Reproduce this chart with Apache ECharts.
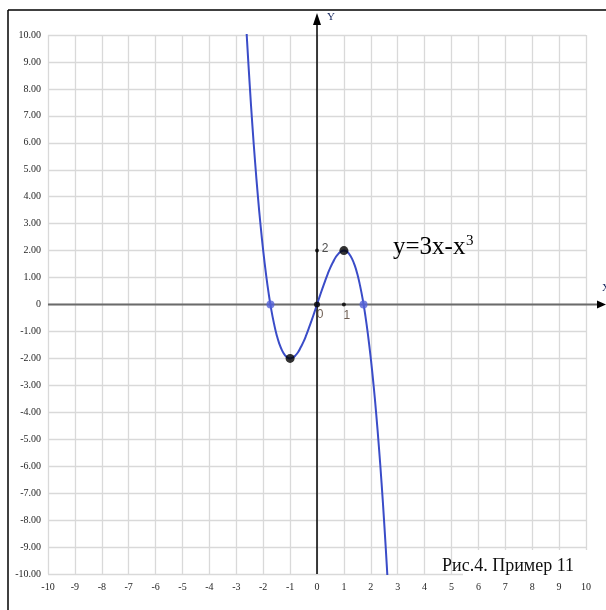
<!DOCTYPE html>
<html><head><meta charset="utf-8">
<script src="https://cdn.jsdelivr.net/npm/echarts@6/dist/echarts.min.js"></script>
<style>html,body{margin:0;padding:0;background:#fff}#c{width:606px;height:610px}</style>
</head><body><div id="c"></div>
<script>
// Curve points (y = 3x - x^3)
var curveX = [-2.65,-2.6,-2.5,-2.4,-2.3,-2.2,-2.1,-2.0,-1.9,-1.8,-1.7,-1.6,-1.5,-1.4,-1.3,-1.2,-1.1,-1.0,-0.9,-0.8,-0.7,-0.6,-0.5,-0.4,-0.3,-0.2,-0.1,0,0.1,0.2,0.3,0.4,0.5,0.6,0.7,0.8,0.9,1.0,1.1,1.2,1.3,1.4,1.5,1.6,1.7,1.8,1.9,2.0,2.1,2.2,2.3,2.4,2.5,2.6,2.65];
var curveY = [10.66,9.78,8.13,6.62,5.27,4.05,2.96,2.00,1.16,0.43,-0.19,-0.70,-1.13,-1.46,-1.70,-1.87,-1.97,-2.00,-1.97,-1.89,-1.76,-1.58,-1.38,-1.14,-0.87,-0.59,-0.30,0,0.30,0.59,0.87,1.14,1.38,1.58,1.76,1.89,1.97,2.00,1.97,1.87,1.70,1.46,1.13,0.70,0.19,-0.43,-1.16,-2.00,-2.96,-4.05,-5.27,-6.62,-8.13,-9.78,-10.66];
var rootPts = [[-1.73,0],[1.73,0]];
var extremePts = [[1,2],[-1,-2]];
var smallPts = [[0,0],[0,2],[1,0]];
var smallLabels = ['0','2','1'];
var xMin=-10, xMax=10, yMin=-10, yMax=10;
var formulaText = 'y=3x-x';
var formulaSup = '3';
var captionText = 'Рис.4. Пример 11';

var chart = echarts.init(document.getElementById('c'), null, {renderer:'canvas'});
var serif = 'Liberation Serif, Times New Roman, serif';
var curve = curveX.map(function(x,i){return [x, curveY[i]];});
var labelFmt = function(v){ return v===0 ? '0' : v.toFixed(2); };
chart.setOption({
  animation:false,
  backgroundColor:'#fff',
  grid:{left:48, right:20, top:35, bottom:36},
  xAxis:{type:'value', min:xMin, max:xMax, interval:1,
    axisLine:{show:false}, axisTick:{show:false},
    splitLine:{show:true, lineStyle:{color:'#d9d9d9', width:1.3}},
    axisLabel:{fontFamily:serif, fontSize:10, color:'#262626', margin:8}},
  yAxis:{type:'value', min:yMin, max:yMax, interval:1,
    axisLine:{show:false}, axisTick:{show:false},
    splitLine:{show:true, lineStyle:{color:'#d9d9d9', width:1.3}},
    axisLabel:{fontFamily:serif, fontSize:10, color:'#262626', margin:7, formatter:labelFmt}},
  series:[
    {type:'line', data:curve, smooth:true, showSymbol:false, clip:true, z:5,
     lineStyle:{color:'#3a4cc8', width:2}},
    {type:'scatter', data:rootPts, symbolSize:8, z:6, itemStyle:{color:'#5563d8'}},
    {type:'scatter', data:extremePts, symbolSize:9, z:6, itemStyle:{color:'#000'}},
    {type:'scatter', data:smallPts.map(function(p,i){
        var off = [[6,13],[10,0],[5,13]][i];
        return {value:p, symbolSize:i===0?6:4,
          label:{show:true, formatter:smallLabels[i], position:[0,0], offset:[off[0], off[1]],
            fontFamily:'Liberation Sans, Arial, sans-serif', fontSize:12,
            color: i===1 ? '#222' : '#4a3628', align:'center', verticalAlign:'middle'}};
      }), z:7, itemStyle:{color:'#000'}}
  ]
});

function px(p){ return chart.convertToPixel({gridIndex:0}, p); }
var o = px([0,0]), top = px([0,yMax]), bot = px([0,yMin]), lft = px([xMin,0]), rgt = px([xMax,0]);
var g = [];
// frame
g.push({type:'line', shape:{x1:8,y1:10,x2:606,y2:10}, style:{stroke:'#000', lineWidth:1.5}, z:10});
g.push({type:'line', shape:{x1:8,y1:10,x2:8,y2:610}, style:{stroke:'#000', lineWidth:1.5}, z:10});
// x axis (gray) with arrow
g.push({type:'line', shape:{x1:lft[0],y1:o[1],x2:600,y2:o[1]}, style:{stroke:'#6b6b6b', lineWidth:2}, z:4});
g.push({type:'polygon', shape:{points:[[606,o[1]],[597,o[1]-4],[597,o[1]+4]]}, style:{fill:'#000'}, z:4});
g.push({type:'text', style:{text:'X', x:602, y:288, fontFamily:serif, fontSize:11, fill:'#1a2a60', align:'left', verticalAlign:'middle'}, z:4});
// y axis (black) with arrow
g.push({type:'line', shape:{x1:o[0],y1:22,x2:o[0],y2:bot[1]}, style:{stroke:'#000', lineWidth:1.5}, z:4});
g.push({type:'polygon', shape:{points:[[o[0],13],[o[0]-4,25],[o[0]+4,25]]}, style:{fill:'#000'}, z:4});
g.push({type:'text', style:{text:'Y', x:327, y:17, fontFamily:serif, fontSize:11, fill:'#1a2a60', align:'left', verticalAlign:'middle'}, z:4});
// formula
g.push({type:'text', style:{text:formulaText, x:393, y:235, fontFamily:serif, fontSize:25, fill:'#000', align:'left', verticalAlign:'top'}, z:8});
g.push({type:'text', style:{text:formulaSup, x:466, y:234, fontFamily:serif, fontSize:15, fill:'#000', align:'left', verticalAlign:'top'}, z:8});
// caption box
g.push({type:'rect', shape:{x:463,y:550,width:130,height:30}, style:{fill:'#fff'}, z:3});
g.push({type:'text', style:{text:captionText, x:442, y:557, fontFamily:serif, fontSize:18, fill:'#111', align:'left', verticalAlign:'top'}, z:8});
chart.setOption({graphic:{elements:g}});
</script></body></html>
